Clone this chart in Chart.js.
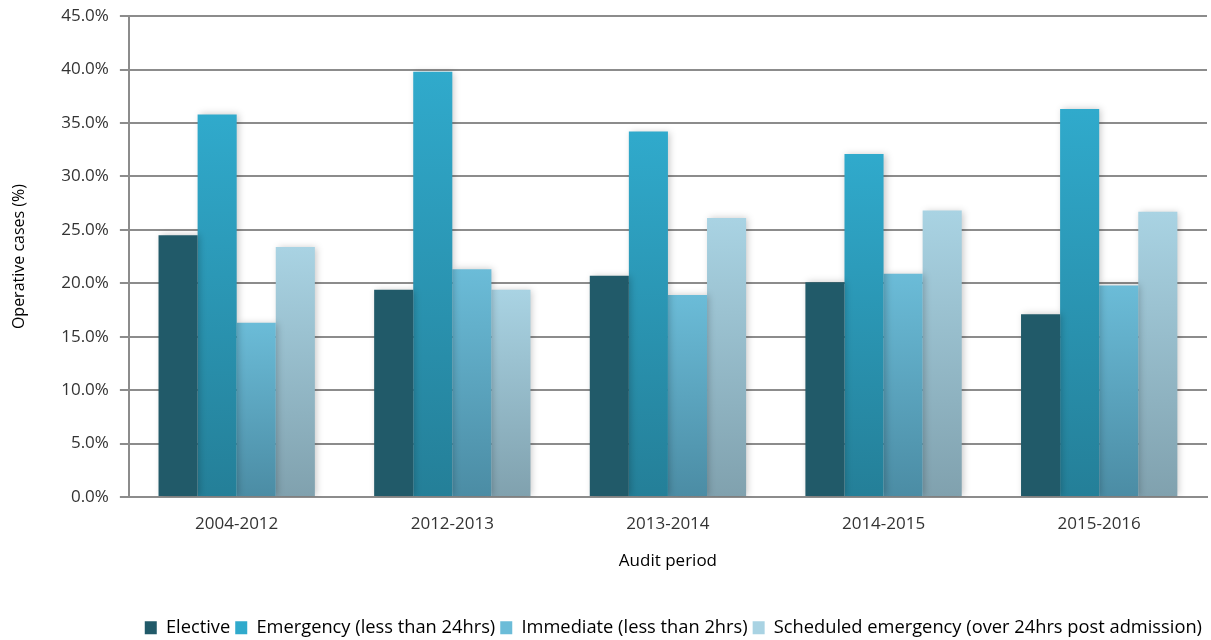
<!DOCTYPE html>
<html>
<head>
<meta charset="utf-8">
<script src="https://cdn.jsdelivr.net/npm/chart.js@4/dist/chart.umd.min.js"></script>
<style>
  html, body { margin: 0; padding: 0; background: #fff; }
  #wrap { width: 1211px; height: 640px; }
</style>
</head>
<body>
<div id="wrap"><canvas id="operativeChart"></canvas></div>
<script>
const periods = ["2004-2012", "2012-2013", "2013-2014", "2014-2015", "2015-2016"];
const elective = [24.5, 19.4, 20.7, 20.1, 17.1];
const emergency = [35.8, 39.8, 34.2, 32.1, 36.3];
const immediate = [16.3, 21.3, 18.9, 20.9, 19.8];
const scheduled = [23.4, 19.4, 26.1, 26.8, 26.7];

// top / bottom colour of each bar's vertical gradient
const shades = {
  elective: ["#215a69", "#215a69"],
  emergency: ["#30aacc", "#247f98"],
  immediate: ["#6bbcd8", "#4b8ca4"],
  scheduled: ["#a9d3e3", "#80a1ae"],
};
const keys = ["elective", "emergency", "immediate", "scheduled"];

function barFill(name) {
  return (context) => {
    const chart = context.chart;
    const y = chart.scales.y;
    if (!chart.chartArea || !y || context.type !== "data") return shades[name][0];
    const top = y.getPixelForValue(context.raw);
    const bottom = y.getPixelForValue(0);
    const g = chart.ctx.createLinearGradient(0, top, 0, bottom);
    g.addColorStop(0, shades[name][0]);
    g.addColorStop(1, shades[name][1]);
    return g;
  };
}

const barShadow = {
  id: "barShadow",
  beforeDatasetsDraw(chart) {
    const ctx = chart.ctx;
    ctx.save();
    ctx.shadowColor = "rgba(0,0,0,0.22)";
    ctx.shadowBlur = 7;
    ctx.shadowOffsetX = 2;
    ctx.shadowOffsetY = 0;
  },
  afterDatasetsDraw(chart) {
    chart.ctx.restore();
  },
};

const font = "'Open Sans', sans-serif";

const ctx = document.getElementById("operativeChart").getContext("2d");
const operativeChart = new Chart(ctx, {
  type: "bar",
  data: {
    labels: periods,
    datasets: [
      { label: "Elective", data: elective, backgroundColor: barFill("elective") },
      { label: "Emergency (less than 24hrs)", data: emergency, backgroundColor: barFill("emergency") },
      { label: "Immediate (less than 2hrs)", data: immediate, backgroundColor: barFill("immediate") },
      { label: "Scheduled emergency (over 24hrs post admission)", data: scheduled, backgroundColor: barFill("scheduled") },
    ],
  },
  options: {
    responsive: true,
    maintainAspectRatio: false,
    animation: false,
    datasets: {
      bar: { categoryPercentage: 0.725, barPercentage: 1.0 },
    },
    layout: { padding: { top: 0, right: 4, bottom: -7, left: 10 } },
    plugins: {
      tooltip: { enabled: false },
      legend: {
        position: "bottom",
        align: "end",
        labels: {
          font: { family: font, size: 18.3 },
          color: "#222",
          boxWidth: 12,
          boxHeight: 13,
          padding: 5,
          generateLabels(chart) {
            return chart.data.datasets.map((ds, i) => ({
              text: ds.label,
              fillStyle: shades[keys[i]][0],
              strokeStyle: shades[keys[i]][0],
              lineWidth: 0,
              datasetIndex: i,
              hidden: false,
            }));
          },
        },
      },
    },
    scales: {
      x: {
        grid: { display: false, drawTicks: false },
        border: { color: "#8c8c8c", width: 2 },
        ticks: { font: { family: font, size: 17, lineHeight: 0.96 }, color: "#333", padding: 19 },
        title: {
          display: true,
          text: "Audit period",
          font: { family: font, size: 17 },
          color: "#000",
          padding: { top: 0, bottom: 42 },
        },
      },
      y: {
        min: 0,
        max: 45,
        ticks: {
          stepSize: 5,
          font: { family: font, size: 17, lineHeight: 0.6 },
          color: "#333",
          padding: 11,
          callback: (v) => v.toFixed(1) + "%",
        },
        grid: { color: "#8c8c8c", lineWidth: 2, tickLength: 9, tickColor: "#8c8c8c" },
        border: { color: "#8c8c8c", width: 2 },
        title: {
          display: true,
          text: "Operative cases (%)",
          font: { family: font, size: 16, weight: 500 },
          color: "#000",
          padding: { top: 0, bottom: 21 },
        },
      },
    },
  },
  plugins: [barShadow],
});
</script>
</body>
</html>
